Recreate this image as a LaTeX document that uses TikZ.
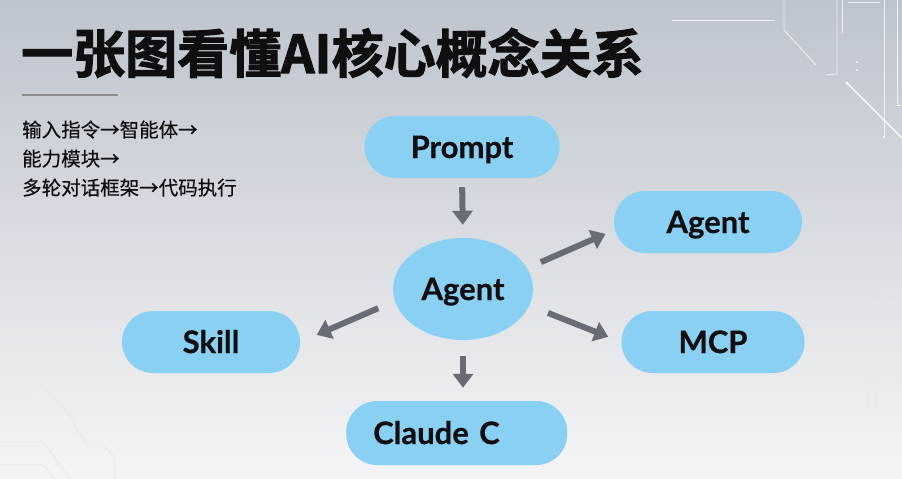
\documentclass[tikz,border=0pt]{standalone}
\usepackage{fontspec}
\newfontfamily\nodefont{Lato}[BoldFeatures={FakeBold=0.6}]
\newfontfamily\cjk{Noto Sans CJK SC}[FakeBold=0.4]
\newfontfamily\cjkheavy{Noto Sans CJK SC}[UprightFont=* Bold, FakeBold=2]
\usetikzlibrary{arrows.meta,shapes.geometric,positioning}

\definecolor{pillblue}{RGB}{138,208,243}
\definecolor{linkgray}{RGB}{104,108,116}
\definecolor{inkblack}{RGB}{15,15,18}
\definecolor{bgtop}{RGB}{190,196,205}
\definecolor{bgmid}{RGB}{221,224,229}
\definecolor{bgbot}{RGB}{245,245,247}

\begin{document}
\begin{tikzpicture}[x=1pt, y=-1pt, >={Triangle[length=14pt,width=20pt]},
	every node/.style={text=inkblack},
	pill/.style={fill=pillblue, rounded corners=31pt, minimum height=62pt, inner sep=0pt, text height=22pt, text depth=0pt, font=\nodefont\bfseries\fontsize{31}{36}\selectfont},
	hub/.style={ellipse, fill=pillblue, minimum width=140pt, minimum height=102pt, inner sep=0pt, text height=22pt, text depth=0pt, font=\nodefont\bfseries\fontsize{31}{36}\selectfont},
	link/.style={->, line width=6pt, linkgray},
	trace/.style={white, line width=0.9pt, opacity=0.75},
	faint/.style={black!9, line width=0.8pt}]
	\shade[top color=bgtop, middle color=bgmid, bottom color=bgbot] (0,0) rectangle (902,479);
	\useasboundingbox (0,0) rectangle (902,479);
	% circuit traces, top right
	\draw[trace] (672,20) -- (775,20);
	\draw[trace] (784,0) -- (784,30) -- (816,65);
	\draw[trace] (837,0) -- (837,74) -- (826,75);
	\draw[trace] (842,0) -- (842,33);
	\draw[trace] (848,2) -- (880,2);
	\fill[white] (857,62) circle (1pt) (857,70) circle (1pt) (884,137) circle (1.2pt) (847,83) circle (1.5pt);
	\draw[trace] (884,0) -- (884,137);
	\draw[trace] (897,0) -- (897,105) -- (902,105);
	\draw[trace, line width=1.4pt, opacity=1] (847,83) -- (902,138);
	% bottom right and bottom left
	\draw[faint, opacity=0.6] (870,308) -- (902,278);
	\draw[faint, opacity=0.6] (902,292) -- (876,335) -- (876,407);
	\draw[faint, opacity=0.6] (868,350) -- (868,407);
	\draw[faint, opacity=0.6] (898,355) -- (898,410);
	\draw[faint] (0,385) -- (43,385) -- (72,418) -- (73,422) -- (88,447) -- (105,447) -- (115,458) -- (115,479);
	\draw[faint] (0,396) -- (32,396);
	\draw[faint] (0,442) -- (43,442) -- (70,479);
	\draw[faint] (0,465) -- (43,465) -- (55,479);
	% title and notes
	\node[anchor=base west, inner sep=0pt, font=\cjkheavy\fontsize{52}{60}\selectfont] (title) at (21,73) {一张图看懂AI核心概念关系};
	\draw[line width=2.5pt, black!45] (22,95) -- (118,95);
	\node[anchor=base west, inner sep=0pt, font=\cjk\fontsize{19.5}{24}\selectfont] (flow1) at (22,137) {输入指令→智能体→};
	\node[anchor=base west, inner sep=0pt, font=\cjk\fontsize{19.5}{24}\selectfont] (flow2) at (22,166) {能力模块→};
	\node[anchor=base west, inner sep=0pt, font=\cjk\fontsize{19.5}{24}\selectfont] (flow3) at (22,195) {多轮对话框架→代码执行};
	% concepts
	\node[pill, minimum width=195pt] (prompt) at (462,147) {Prompt};
	\node[hub] (agent) at (463,289) {Agent};
	\node[pill, minimum width=188pt] (agentR) at (708,222) {Agent};
	\node[pill, minimum width=183pt] (mcp) at (713,342) {MCP};
	\node[pill, minimum width=178pt] (skill) at (211,342) {Skill};
	\node[pill, anchor=west, text width=167pt, align=left, inner xsep=27pt, minimum height=64pt] (claude) at (346,433) {Claude C};
	% links
	\draw[link, shorten <=9pt, shorten >=13pt] (prompt.south) -- (agent.north);
	\draw[link, shorten <=15pt, shorten >=9pt] (agent.18) -- (agentR.185);
	\draw[link, shorten <=18pt, shorten >=18pt] (agent.190) -- (skill.east);
	\draw[link, shorten <=20pt, shorten >=14pt] (agent.346) -- (mcp.west);
	\draw[link, shorten <=16pt, shorten >=13pt] (agent.south) -- (agent.south |- claude.north);
\end{tikzpicture}
\end{document}
